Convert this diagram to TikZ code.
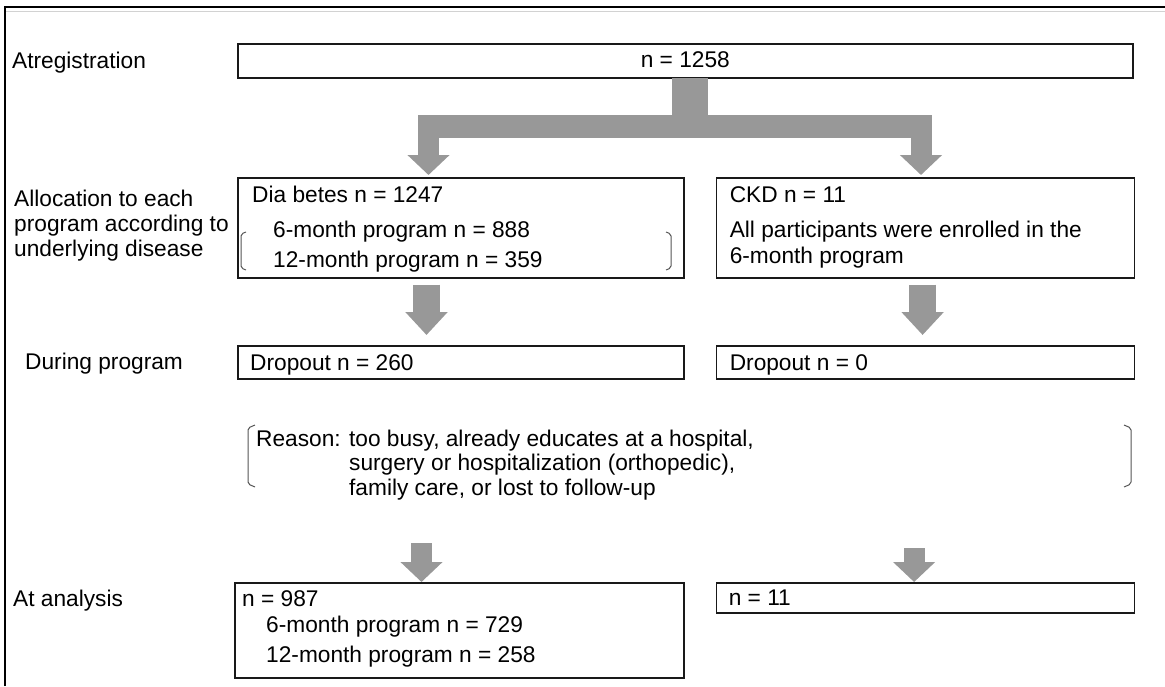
\documentclass[tikz,border=0pt]{standalone}
\usepackage{fontspec}
\setmainfont{Liberation Sans}
\usetikzlibrary{arrows.meta, positioning, calc}
\definecolor{flowgray}{RGB}{152,152,152}
\definecolor{brackgray}{RGB}{85,85,85}
\tikzset{
  box/.style={draw=black!90, line width=1.6pt, inner sep=0pt, anchor=north west},
  txt/.style={anchor=base west, inner sep=0pt, font=\fontsize{22.7}{24.5}\selectfont},
  fat/.style={draw=flowgray, line width=21pt},
  fatarr/.style={fat, -{Triangle[width=41pt, length=20pt]}},
  brack/.style={draw=brackgray, line width=1pt, rounded corners=2pt},
}

\begin{document}
\begin{tikzpicture}[x=1pt, y=-1pt]
  \useasboundingbox (0,0) rectangle (1165,686);
  % frame
  \draw[line width=2pt] (5,686) -- (5,7) -- (1165,7);
  \draw[gray!35, line width=0.8pt] (6,11.5) -- (1165,11.5);

  % boxes
  \node[box, minimum width=895pt, minimum height=34pt] (reg) at (237,43) {};
  \node[box, minimum width=446pt, minimum height=100pt] (dia) at (237,177) {};
  \node[box, minimum width=418pt, minimum height=100pt, right=31pt of dia] (ckd) {};
  \node[box, minimum width=446pt, minimum height=33pt] (dropl) at (237,345) {};
  \node[box, minimum width=418pt, minimum height=33pt, right=31pt of dropl] (dropr) {};
  \node[box, minimum width=449pt, minimum height=95pt] (anal) at (234,582) {};
  \node[box, minimum width=418pt, minimum height=30pt, right=31pt of anal.north east, anchor=north west] (anar) {};

  % stage labels
  \node[txt] (lreg) at (12,68) {Atregistration};
  \node[txt] (lal1) at (14,206) {Allocation to each};
  \node[txt] (lal2) at (14,231) {program according to};
  \node[txt] (lal3) at (14,256) {underlying disease};
  \node[txt] (ldur) at (25,369) {During program};
  \node[txt] (lana) at (13,606) {At analysis};

  % box texts
  \node[txt, anchor=base] (nreg) at ([yshift=-24pt]reg.north) {n = 1258};
  \node[txt] (dia1) at ([shift={(15,25)}]dia.north west) {Dia betes n = 1247};
  \node[txt] (dia2) at ([shift={(36,60)}]dia.north west) {6-month program n = 888};
  \node[txt] (dia3) at ([shift={(36,90)}]dia.north west) {12-month program n = 359};
  \node[txt] (ckd1) at ([shift={(14,25)}]ckd.north west) {CKD n = 11};
  \node[txt] (ckd2) at ([shift={(14,60)}]ckd.north west) {All participants were enrolled in the};
  \node[txt] (ckd3) at ([shift={(14,86)}]ckd.north west) {6-month program};
  \node[txt] (drp1) at ([shift={(13,25)}]dropl.north west) {Dropout n = 260};
  \node[txt] (drp2) at ([shift={(14,25)}]dropr.north west) {Dropout n = 0};
  \node[txt] (reason) at (256,446) {\begin{tabular}[t]{@{}l@{ }l@{}}
    Reason: & too busy, already educates at a hospital,\\
            & surgery or hospitalization (orthopedic),\\
            & family care, or lost to follow-up
  \end{tabular}};
  \node[txt] (ana1) at ([shift={(8,24)}]anal.north west) {n = 987};
  \node[txt] (ana2) at ([shift={(32,50)}]anal.north west) {6-month program n = 729};
  \node[txt] (ana3) at ([shift={(32,80)}]anal.north west) {12-month program n = 258};
  \node[txt] (anr1) at ([shift={(13,23)}]anar.north west) {n = 11};

  % brackets
  \draw[brack] (246,232) -- (241,234) -- (241,268) -- (246,270);
  \draw[brack] (666,232) -- (671,234) -- (671,268) -- (666,270);
  \draw[brack] (255,425) -- (248,428) -- (248,484) -- (255,487);
  \draw[brack] (1124,425) -- (1131,428) -- (1131,484) -- (1124,487);

  % split arrow
  \coordinate (fork) at (690,126.5);
  \coordinate (lft) at (428.5,115);
  \coordinate (rgt) at (921,115);
  \draw[fat, line width=36pt, shorten <=-1pt] (reg.south -| fork) -- (fork);
  \draw[fat, line width=23pt] ([xshift=-10.5pt]lft |- fork) -- ([xshift=11pt]rgt |- fork);
  \draw[fatarr, shorten >=2pt] (lft) -- (lft |- dia.north);
  \draw[fatarr, shorten >=2pt] (rgt) -- (rgt |- ckd.north);

  % down arrows
  \coordinate (a5) at ([xshift=189.5pt]dropl.north west);
  \coordinate (a6) at ([xshift=207pt]dropr.north west);
  \draw[fatarr, line width=27pt, -{Triangle[width=41pt, length=23pt]}, shorten <=6pt, shorten >=10pt] (dia.south -| a5) -- (a5);
  \draw[fatarr, line width=27pt, -{Triangle[width=41pt, length=23pt]}, shorten <=6pt, shorten >=10pt] (ckd.south -| a6) -- (a6);
  \coordinate (a7) at ([xshift=187.5pt]anal.north west);
  \coordinate (a8) at ([xshift=198.5pt]anar.north west);
  \draw[fatarr, shorten <=40.6pt] (reason.south -| a7) -- (a7);
  \draw[fatarr, shorten <=45.6pt] (reason.south -| a8) -- (a8);
\end{tikzpicture}
\end{document}
